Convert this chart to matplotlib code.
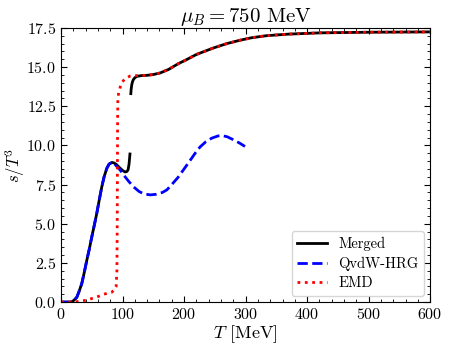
import matplotlib
matplotlib.use("Agg")
import matplotlib.pyplot as plt
from matplotlib.ticker import MultipleLocator

plt.rcParams['font.family'] = 'serif'
plt.rcParams['font.serif'] = ['cmr10']
plt.rcParams['mathtext.fontset'] = 'cm'
plt.rcParams['axes.formatter.use_mathtext'] = True
plt.rcParams['axes.unicode_minus'] = False

# QvdW-HRG
hrg_T = [0, 15, 17.5, 21, 25.5, 29, 33.6, 37.5, 41.8, 46, 49.9, 54, 58, 62, 66.2, 70,
         74.3, 78, 82.4, 86, 90, 96, 102, 110, 118, 127, 135, 145, 155, 165, 172, 180,
         190, 199, 210, 218, 226, 235, 245, 255, 261, 270, 280, 290, 299]
hrg_s = [0, 0, 0.02, 0.12, 0.3, 0.65, 1.17, 1.85, 2.66, 3.4, 4.15, 4.9, 5.65, 6.5, 7.35, 8.0,
         8.53, 8.8, 8.91, 8.85, 8.68, 8.43, 8.1, 7.7, 7.35, 7.05, 6.9, 6.84, 6.88, 7.0, 7.16, 7.5,
         7.95, 8.44, 9.05, 9.5, 9.9, 10.22, 10.46, 10.6, 10.63, 10.55, 10.36, 10.15, 9.93]

# EMD
emd_T = [0, 20, 31, 42, 52, 62, 69, 76, 82, 86, 89.5, 90.8, 91.3, 91.6, 91.9, 92.3, 93.5,
         96, 98.7, 104, 112, 120, 130, 140, 150, 161, 175, 190, 204, 220, 248, 270, 291,
         310, 334, 370, 421, 500, 600]
emd_s = [0, 0.0, 0.05, 0.13, 0.25, 0.38, 0.5, 0.56, 0.62, 0.75, 0.98, 2.0, 5.0, 8.5, 11.5, 12.8, 13.35,
         13.7, 14.0, 14.26, 14.42, 14.45, 14.45, 14.47, 14.52, 14.62, 14.85, 15.2, 15.47, 15.8, 16.22,
         16.5, 16.71, 16.87, 17.0, 17.1, 17.18, 17.22, 17.24]

# Merged (two branches)
mlo_T = [0, 15, 17.5, 21, 25.5, 29, 33.6, 37.5, 41.8, 46, 49.9, 54, 58, 62, 66.2, 70,
         74.3, 78, 82.4, 86, 90, 95, 100, 104, 107, 109, 110.5, 112]
mlo_s = [0, 0, 0.02, 0.12, 0.3, 0.65, 1.17, 1.85, 2.66, 3.4, 4.15, 4.9, 5.65, 6.5, 7.35, 8.0,
         8.53, 8.8, 8.91, 8.88, 8.78, 8.58, 8.4, 8.3, 8.33, 8.45, 8.8, 9.45]
mhi_T = [113.4, 114, 115, 116.3, 117.6, 120, 123, 130, 140, 150, 161, 175, 190, 204, 220,
         248, 270, 291, 310, 334, 370, 421, 500, 600]
mhi_s = [13.3, 13.6, 13.88, 14.08, 14.2, 14.32, 14.4, 14.45, 14.47, 14.52, 14.62, 14.85, 15.2,
         15.47, 15.8, 16.22, 16.5, 16.71, 16.87, 17.0, 17.1, 17.18, 17.22, 17.24]

fig = plt.figure(figsize=(4.49, 3.48), dpi=100)
ax = fig.add_axes([0.136, 0.132, 0.822, 0.788])

ax.plot(mlo_T, mlo_s, color='black', lw=2, label='Merged')
ax.plot(mhi_T, mhi_s, color='black', lw=2)
ax.plot(hrg_T, hrg_s, color='blue', lw=2, ls='--', label='QvdW-HRG')
ax.plot(emd_T, emd_s, color='red', lw=2, ls=':', label='EMD')

ax.set_xlim(0, 600)
ax.set_ylim(0, 17.5)
ax.xaxis.set_major_locator(MultipleLocator(100))
ax.xaxis.set_minor_locator(MultipleLocator(20))
ax.yaxis.set_major_locator(MultipleLocator(2.5))
ax.yaxis.set_minor_locator(MultipleLocator(0.5))
ax.tick_params(which='both', direction='in', top=True, right=True, labelsize=11.5)
ax.tick_params(which='major', length=4)
ax.tick_params(which='minor', length=2)

ax.set_xlabel(r'$T$ [MeV]', fontsize=13, labelpad=1)
ax.set_ylabel(r'$s/T^3$', fontsize=12)
ax.yaxis.set_label_coords(-0.092, 0.5)
ax.set_title(r'$\mu_B = 750$ MeV', fontsize=15, pad=3)
ax.legend(loc='lower right', fontsize=10.5, labelspacing=0.4, borderaxespad=0.4)

fig.savefig('out.png', dpi=100)
